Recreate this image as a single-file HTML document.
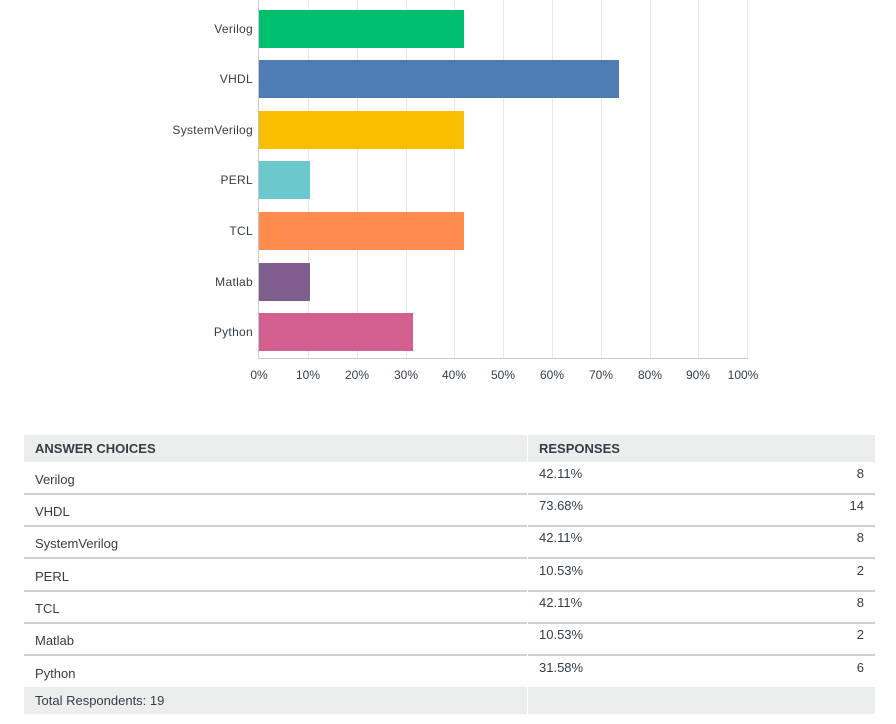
<!DOCTYPE html><html><head><style>
body{margin:0;width:896px;height:724px;background:#fff;position:relative;font-family:"Liberation Sans",sans-serif;color:#333e48;overflow:hidden}
.a{position:absolute}
.lbl{position:absolute;right:643px;font-size:12px;letter-spacing:0.3px;color:#333e48;text-align:right;white-space:nowrap}
.bar{position:absolute;left:259px;height:38px}
.g{position:absolute;top:0;width:1px;height:358px;background:#e8e8e8}
.t{position:absolute;top:368px;font-size:12px;width:50px;text-align:center;margin-left:-25px}
.c{position:absolute;font-size:13px;color:#333e48}
.sep{position:absolute;height:2px;background:#d0d0d0}
</style></head><body>
<div class="g" style="left:308px"></div><div class="g" style="left:357px"></div><div class="g" style="left:406px"></div><div class="g" style="left:454px"></div><div class="g" style="left:503px"></div><div class="g" style="left:552px"></div><div class="g" style="left:601px"></div><div class="g" style="left:650px"></div><div class="g" style="left:698px"></div><div class="g" style="left:747px"></div>
<div class="a" style="left:258px;top:0;width:1px;height:359px;background:#c8c8c8"></div>
<div class="a" style="left:258px;top:358px;width:490px;height:1px;background:#c8c8c8"></div>
<div class="bar" style="top:10px;width:205px;background:#00bf6f"></div>
<div class="bar" style="top:60px;width:360px;background:#507cb6"></div>
<div class="bar" style="top:111px;width:205px;background:#f9be00"></div>
<div class="bar" style="top:161px;width:51px;background:#6bc8cd"></div>
<div class="bar" style="top:212px;width:205px;background:#ff8b4f"></div>
<div class="bar" style="top:263px;width:51px;background:#7f5f90"></div>
<div class="bar" style="top:313px;width:154px;background:#d25f90"></div>
<div class="lbl" style="top:22px">Verilog</div>
<div class="lbl" style="top:72px">VHDL</div>
<div class="lbl" style="top:123px">SystemVerilog</div>
<div class="lbl" style="top:173px">PERL</div>
<div class="lbl" style="top:224px">TCL</div>
<div class="lbl" style="top:275px">Matlab</div>
<div class="lbl" style="top:325px">Python</div>
<div class="t" style="left:259px">0%</div><div class="t" style="left:308px">10%</div><div class="t" style="left:357px">20%</div><div class="t" style="left:406px">30%</div><div class="t" style="left:454px">40%</div><div class="t" style="left:503px">50%</div><div class="t" style="left:552px">60%</div><div class="t" style="left:601px">70%</div><div class="t" style="left:650px">80%</div><div class="t" style="left:698px">90%</div><div class="t" style="left:743px">100%</div>
<div class="a" style="left:24px;top:435px;width:503px;height:27px;background:#eceeee"></div>
<div class="a" style="left:528px;top:435px;width:347px;height:27px;background:#eceeee"></div>
<div class="c" style="left:35px;top:441px;font-weight:bold">ANSWER CHOICES</div>
<div class="c" style="left:539px;top:441px;font-weight:bold">RESPONSES</div>
<div class="a" style="left:24px;top:687px;width:503px;height:27px;background:#eceeee"></div>
<div class="a" style="left:528px;top:687px;width:347px;height:27px;background:#eceeee"></div>
<div class="c" style="left:35px;top:693px;font-size:13px">Total Respondents: 19</div>
<div class="sep" style="left:24px;top:493px;width:503px"></div><div class="sep" style="left:528px;top:493px;width:347px"></div>
<div class="sep" style="left:24px;top:525px;width:503px"></div><div class="sep" style="left:528px;top:525px;width:347px"></div>
<div class="sep" style="left:24px;top:557px;width:503px"></div><div class="sep" style="left:528px;top:557px;width:347px"></div>
<div class="sep" style="left:24px;top:590px;width:503px"></div><div class="sep" style="left:528px;top:590px;width:347px"></div>
<div class="sep" style="left:24px;top:622px;width:503px"></div><div class="sep" style="left:528px;top:622px;width:347px"></div>
<div class="sep" style="left:24px;top:654px;width:503px"></div><div class="sep" style="left:528px;top:654px;width:347px"></div>
<div class="c" style="left:35px;top:472px">Verilog</div><div class="c" style="left:539px;top:466px">42.11%</div><div class="c" style="right:32px;top:466px">8</div>
<div class="c" style="left:35px;top:504px">VHDL</div><div class="c" style="left:539px;top:498px">73.68%</div><div class="c" style="right:32px;top:498px">14</div>
<div class="c" style="left:35px;top:536px">SystemVerilog</div><div class="c" style="left:539px;top:530px">42.11%</div><div class="c" style="right:32px;top:530px">8</div>
<div class="c" style="left:35px;top:569px">PERL</div><div class="c" style="left:539px;top:563px">10.53%</div><div class="c" style="right:32px;top:563px">2</div>
<div class="c" style="left:35px;top:601px">TCL</div><div class="c" style="left:539px;top:595px">42.11%</div><div class="c" style="right:32px;top:595px">8</div>
<div class="c" style="left:35px;top:633px">Matlab</div><div class="c" style="left:539px;top:627px">10.53%</div><div class="c" style="right:32px;top:627px">2</div>
<div class="c" style="left:35px;top:666px">Python</div><div class="c" style="left:539px;top:660px">31.58%</div><div class="c" style="right:32px;top:660px">6</div>
</body></html>
